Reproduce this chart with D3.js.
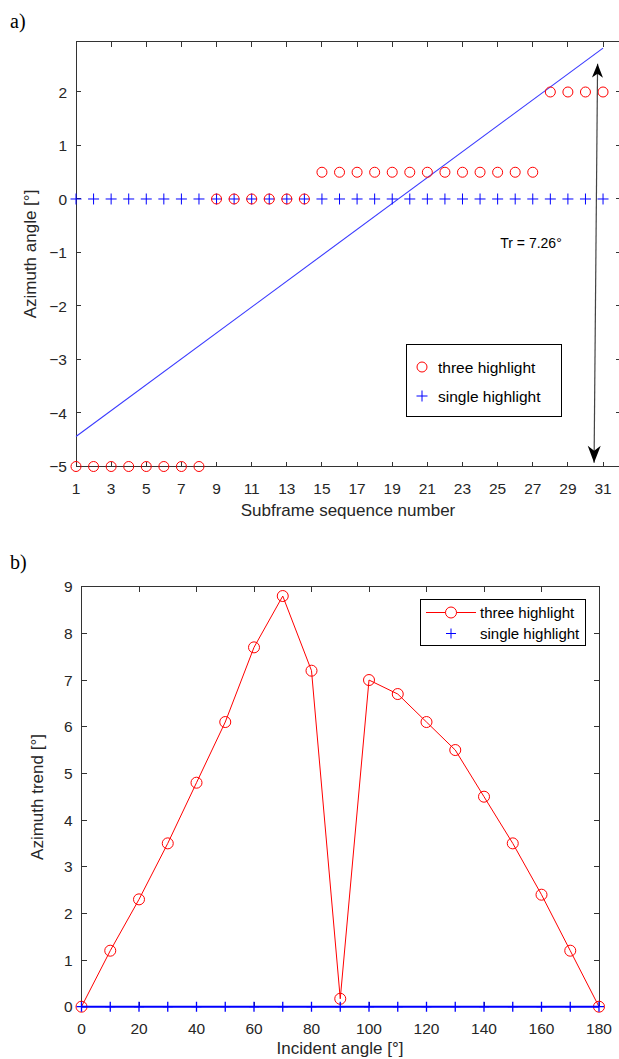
<!DOCTYPE html>
<html><head><meta charset="utf-8">
<script src="https://cdn.jsdelivr.net/npm/d3@7"></script>
<style>
body{margin:0;background:#fff;}
svg{display:block;font-family:"Liberation Sans",Arial,sans-serif;}
</style></head>
<body><svg id="c" width="619" height="1059"></svg>
<script>
// ---- Data: panel a ----
const subframes = d3.range(1, 32);
const threeHighlightA = [-5,-5,-5,-5,-5,-5,-5,-5,0,0,0,0,0,0,0.5,0.5,0.5,0.5,0.5,0.5,0.5,0.5,0.5,0.5,0.5,0.5,0.5,2,2,2,2];
const singleHighlightA = subframes.map(() => 0);
const trendLine = [[1, -4.44], [31, 2.82]];
const trText = "Tr = 7.26°";
const xTicksA = [1,3,5,7,9,11,13,15,17,19,21,23,25,27,29,31];
const yTicksA = [-5,-4,-3,-2,-1,0,1,2];
// ---- Data: panel b ----
const incidentAngles = [0,10,20,30,40,50,60,70,80,90,100,110,120,130,140,150,160,170,180];
const threeHighlightB = [0,1.2,2.3,3.5,4.8,6.1,7.7,8.8,7.2,0.17,7.0,6.7,6.1,5.5,4.5,3.5,2.4,1.2,0];
const singleHighlightB = incidentAngles.map(() => 0);
const xTicksB = [0,20,40,60,80,100,120,140,160,180];
const yTicksB = [0,1,2,3,4,5,6,7,8,9];

const svg = d3.select("#c");
const AX = "#333";
const RED = "#ff0000", BLUE = "#0000ff";

function frame(g, x, y, xt, yt, tickFs) {
  const [x0, x1] = x.range(), [y0, y1] = y.range();
  g.append("rect").attr("x", x0).attr("y", y1).attr("width", x1 - x0).attr("height", y0 - y1)
    .attr("fill", "none").attr("stroke", AX).attr("stroke-width", 1).attr("shape-rendering", "crispEdges");
  const L = 5;
  xt.forEach(t => {
    const px = x(t);
    g.append("line").attr("x1", px).attr("x2", px).attr("y1", y0).attr("y2", y0 - L).attr("stroke", AX).attr("shape-rendering","crispEdges");
    g.append("line").attr("x1", px).attr("x2", px).attr("y1", y1).attr("y2", y1 + L).attr("stroke", AX).attr("shape-rendering","crispEdges");
    g.append("text").attr("x", px).attr("y", y0 + 27).attr("text-anchor", "middle")
      .attr("font-size", tickFs).attr("fill", "#262626").text(d3.format("")(t));
  });
  yt.forEach(t => {
    const py = y(t);
    g.append("line").attr("x1", x0).attr("x2", x0 + L).attr("y1", py).attr("y2", py).attr("stroke", AX).attr("shape-rendering","crispEdges");
    g.append("line").attr("x1", x1).attr("x2", x1 - L).attr("y1", py).attr("y2", py).attr("stroke", AX).attr("shape-rendering","crispEdges");
    g.append("text").attr("x", x0 - 9).attr("y", py).attr("dy", "0.36em").attr("text-anchor", "end")
      .attr("font-size", tickFs).attr("fill", "#262626").text(t < 0 ? "\u2212" + Math.abs(t) : String(t));
  });
}

function plus(g, cx, cy, s, color, w) {
  g.append("path").attr("d", `M${cx - s},${cy}H${cx + s}M${cx},${cy - s}V${cy + s}`)
    .attr("stroke", color).attr("stroke-width", w || 1).attr("fill", "none");
}

// ================= Panel a =================
const gA = svg.append("g");
const xA = d3.scaleLinear().domain([1, 32]).range([76, 620.6]);
const yA = d3.scaleLinear().domain([-5, 2.94]).range([466.5, 41.7]);

gA.append("text").attr("x", 10).attr("y", 28).attr("font-family", "'Liberation Serif','DejaVu Serif',serif")
  .attr("font-size", 20).attr("fill", "#000").text("a)");

frame(gA, xA, yA, xTicksA, yTicksA, 15.5);

// trend line
gA.append("path").datum(trendLine)
  .attr("d", d3.line().x(d => xA(d[0])).y(d => yA(d[1])))
  .attr("stroke", "#3a3aff").attr("stroke-width", 1.1).attr("fill", "none");

// single highlight pluses
subframes.forEach((s, i) => plus(gA, xA(s), yA(singleHighlightA[i]), 5.5, BLUE, 1));
// three highlight circles
subframes.forEach((s, i) => {
  gA.append("circle").attr("cx", xA(s)).attr("cy", yA(threeHighlightA[i])).attr("r", 5)
    .attr("fill", "none").attr("stroke", RED).attr("stroke-width", 1);
});

// double arrow
(function () {
  const p1 = [xA(30.49), yA(-4.93)], p2 = [xA(30.69), yA(2.53)];
  gA.append("line").attr("x1", p1[0]).attr("y1", p1[1]).attr("x2", p2[0]).attr("y2", p2[1])
    .attr("stroke", "#444").attr("stroke-width", 1.2);
  function head(tip, from, hl, hw, notch) {
    const dx = tip[0] - from[0], dy = tip[1] - from[1], len = Math.hypot(dx, dy);
    const ux = dx / len, uy = dy / len, nx = -uy, ny = ux;
    const b = [tip[0] - ux * hl, tip[1] - uy * hl];
    const n = [tip[0] - ux * notch, tip[1] - uy * notch];
    gA.append("path").attr("d",
      `M${tip[0]},${tip[1]}L${b[0] + nx * hw},${b[1] + ny * hw}L${n[0]},${n[1]}L${b[0] - nx * hw},${b[1] - ny * hw}Z`)
      .attr("fill", "#000");
  }
  head(p2, p1, 14, 5.5, 10); head(p1, p2, 17, 6.5, 12);
})();
gA.append("text").attr("x", xA(26.9)).attr("y", yA(-0.92)).attr("text-anchor", "middle")
  .attr("font-size", 14).attr("fill", "#000").text(trText);

// legend a
(function () {
  const lg = gA.append("g");
  lg.append("rect").attr("x", 406.5).attr("y", 344.5).attr("width", 155).attr("height", 71.5)
    .attr("fill", "#fff").attr("stroke", "#000").attr("stroke-width", 1).attr("shape-rendering","crispEdges");
  lg.append("circle").attr("cx", 422).attr("cy", 367).attr("r", 5).attr("fill", "none").attr("stroke", RED);
  lg.append("text").attr("x", 438).attr("y", 367).attr("dy", "0.36em").attr("font-size", 15.5).attr("fill", "#000").text("three highlight");
  plus(lg, 422, 396, 5.5, BLUE, 1);
  lg.append("text").attr("x", 438).attr("y", 396).attr("dy", "0.36em").attr("font-size", 15.5).attr("fill", "#000").text("single highlight");
})();

gA.append("text").attr("x", 348).attr("y", 516).attr("text-anchor", "middle").attr("font-size", 17)
  .attr("fill", "#262626").text("Subframe sequence number");
gA.append("text").attr("transform", "translate(30,254) rotate(-90)").attr("dy", "0.35em")
  .attr("text-anchor", "middle").attr("font-size", 17).attr("fill", "#262626").text("Azimuth angle [°]");

// ================= Panel b =================
const gB = svg.append("g");
const xB = d3.scaleLinear().domain([0, 180]).range([81.5, 599]);
const yB = d3.scaleLinear().domain([0, 9]).range([1006.7, 586.7]);

gB.append("text").attr("x", 10).attr("y", 569).attr("font-family", "'Liberation Serif','DejaVu Serif',serif")
  .attr("font-size", 20).attr("fill", "#000").text("b)");

frame(gB, xB, yB, xTicksB, yTicksB, 15.5);

// three highlight line+circles
gB.append("path").datum(incidentAngles.map((a, i) => [a, threeHighlightB[i]]))
  .attr("d", d3.line().x(d => xB(d[0])).y(d => yB(d[1])))
  .attr("stroke", RED).attr("stroke-width", 1).attr("fill", "none");
incidentAngles.forEach((a, i) => {
  gB.append("circle").attr("cx", xB(a)).attr("cy", yB(threeHighlightB[i])).attr("r", 5.5)
    .attr("fill", "none").attr("stroke", RED).attr("stroke-width", 1);
});
// single highlight line + pluses
gB.append("path").datum(incidentAngles.map((a, i) => [a, singleHighlightB[i]]))
  .attr("d", d3.line().x(d => xB(d[0])).y(d => yB(d[1])))
  .attr("stroke", BLUE).attr("stroke-width", 2).attr("fill", "none");
incidentAngles.forEach((a, i) => plus(gB, xB(a), yB(singleHighlightB[i]), 5, BLUE, 1.3));

// legend b
(function () {
  const lg = gB.append("g");
  lg.append("rect").attr("x", 420.5).attr("y", 599.5).attr("width", 164.5).attr("height", 46)
    .attr("fill", "#fff").attr("stroke", "#000").attr("stroke-width", 1).attr("shape-rendering","crispEdges");
  lg.append("line").attr("x1", 426).attr("x2", 476).attr("y1", 612.5).attr("y2", 612.5).attr("stroke", RED);
  lg.append("circle").attr("cx", 451).attr("cy", 612.5).attr("r", 5.5).attr("fill", "#fff").attr("stroke", RED);
  lg.append("text").attr("x", 480).attr("y", 612.5).attr("dy", "0.36em").attr("font-size", 15).attr("fill", "#000").text("three highlight");
  plus(lg, 451, 633.5, 5, BLUE, 1);
  lg.append("text").attr("x", 480).attr("y", 633.5).attr("dy", "0.36em").attr("font-size", 15).attr("fill", "#000").text("single highlight");
})();

gB.append("text").attr("x", 340).attr("y", 1054).attr("text-anchor", "middle").attr("font-size", 17)
  .attr("fill", "#262626").text("Incident angle [°]");
gB.append("text").attr("transform", "translate(37,797) rotate(-90)").attr("dy", "0.35em")
  .attr("text-anchor", "middle").attr("font-size", 17).attr("fill", "#262626").text("Azimuth trend [°]");
</script></body></html>
